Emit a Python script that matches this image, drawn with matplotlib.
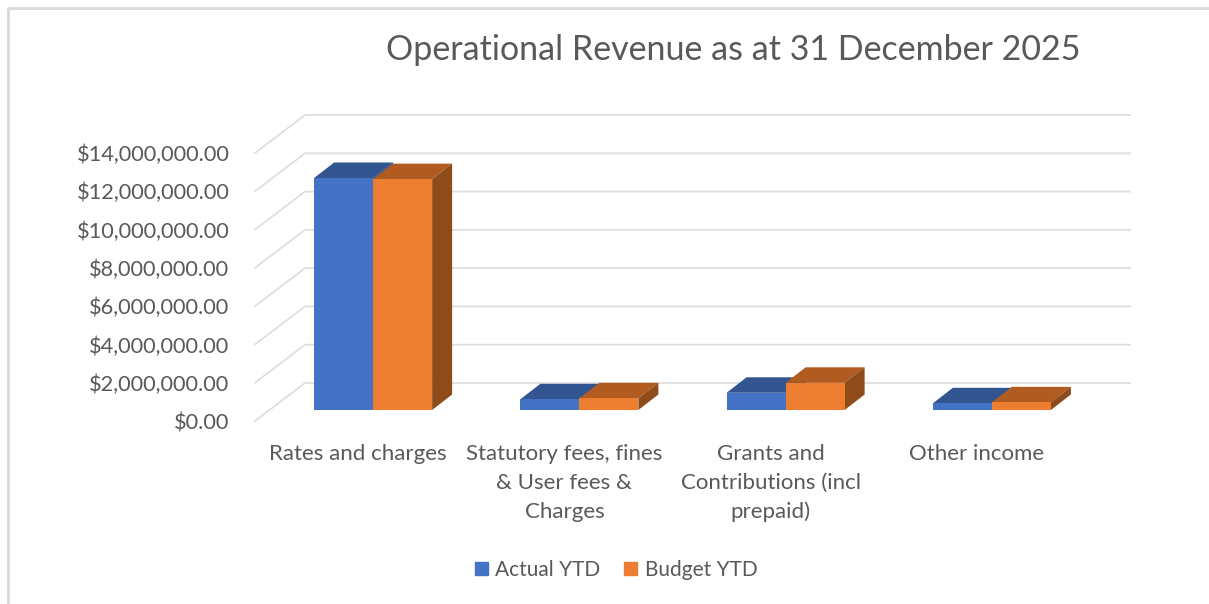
import matplotlib
matplotlib.use('Agg')
import matplotlib.pyplot as plt
from matplotlib.lines import Line2D
from matplotlib.patches import Patch

plt.rcParams['font.family'] = ['Lato', 'DejaVu Sans']

categories = ['Rates and charges',
              'Statutory fees, fines\n& User fees &\nCharges',
              'Grants and\nContributions (incl\nprepaid)',
              'Other income']
actual_ytd = [12120000, 560000, 900000, 350000]
budget_ytd = [12060000, 610000, 1420000, 400000]
y_ticks = [0, 2000000, 4000000, 6000000, 8000000, 10000000, 12000000, 14000000]

W, H = 1209, 604
TEXT = '#595959'
GRID = '#dedede'

fig = plt.figure(figsize=(W / 100, H / 100), dpi=100)
# front plane of the 3D box
ax = fig.add_axes([255 / W, 1 - 421 / H, 825 / W, 268 / H])
ax.set_xlim(0, len(categories))
ax.set_ylim(0, 14000000)
for s in ax.spines.values():
    s.set_visible(False)

# pixel sizes expressed in data units
px_x = len(categories) / 825
px_y = 14000000 / 268
wall_dx, wall_dy = 50 * px_x, 38 * px_y
gap_dx, gap_dy = 15 * px_x, 11 * px_y
bar_dx, bar_dy = 20 * px_x, 15.5 * px_y
bar_w = 59 * px_x

# gridlines: diagonal on the side wall, then along the back wall
for v in y_ticks:
    ax.plot([0, wall_dx, len(categories) + wall_dx], [v, v + wall_dy, v + wall_dy],
            color=GRID, lw=1.3, clip_on=False, zorder=1)


def draw_bar(x, v, front, top, side):
    y0 = gap_dy
    x0 = x + gap_dx
    y1 = y0 + v
    ax.fill([x0, x0 + bar_w, x0 + bar_w + bar_dx, x0 + bar_dx],
            [y1, y1, y1 + bar_dy, y1 + bar_dy], color=top, lw=0, clip_on=False, zorder=3)
    ax.fill([x0 + bar_w, x0 + bar_w + bar_dx, x0 + bar_w + bar_dx, x0 + bar_w],
            [y0, y0 + bar_dy, y1 + bar_dy, y1], color=side, lw=0, clip_on=False, zorder=3)
    ax.fill([x0, x0 + bar_w, x0 + bar_w, x0], [y0, y0, y1, y1],
            color=front, lw=0, clip_on=False, zorder=4)


for i in range(len(categories)):
    centre = i + 0.5
    draw_bar(centre - bar_w, actual_ytd[i], '#4472C4', '#325592', '#2C4A80')
    draw_bar(centre, budget_ytd[i], '#ED7D31', '#B15B20', '#8F4B1A')

ax.set_yticks(y_ticks)
ax.set_yticklabels([f'${v:,.2f}' for v in y_ticks], fontsize=15.7, color=TEXT)
ax.set_xticks([i + 0.5 for i in range(len(categories))])
ax.set_xticklabels(categories, fontsize=16, color=TEXT, linespacing=1.55)
ax.tick_params(axis='y', length=0, pad=18.5)
ax.tick_params(axis='x', length=0, pad=16.5)

fig.text(733 / W, 1 - 50 / H, 'Operational Revenue as at 31 December 2025',
         fontsize=24.5, color=TEXT, ha='center', va='center')

handles = [Patch(color='#4472C4', label='Actual YTD'), Patch(color='#ED7D31', label='Budget YTD')]
fig.legend(handles=handles, loc='center', bbox_to_anchor=(616 / W, 1 - 570 / H), ncol=2,
           frameon=False, fontsize=15, labelcolor=TEXT, handlelength=0.63, handleheight=0.63,
           handletextpad=0.35, columnspacing=1.15)

# chart frame, cropped on the right and bottom
fig.add_artist(Line2D([8 / W, 8 / W, 1], [0, 1 - 8 / H, 1 - 8 / H], color='#d9d9d9', lw=2))

fig.savefig('out.png', dpi=100)
